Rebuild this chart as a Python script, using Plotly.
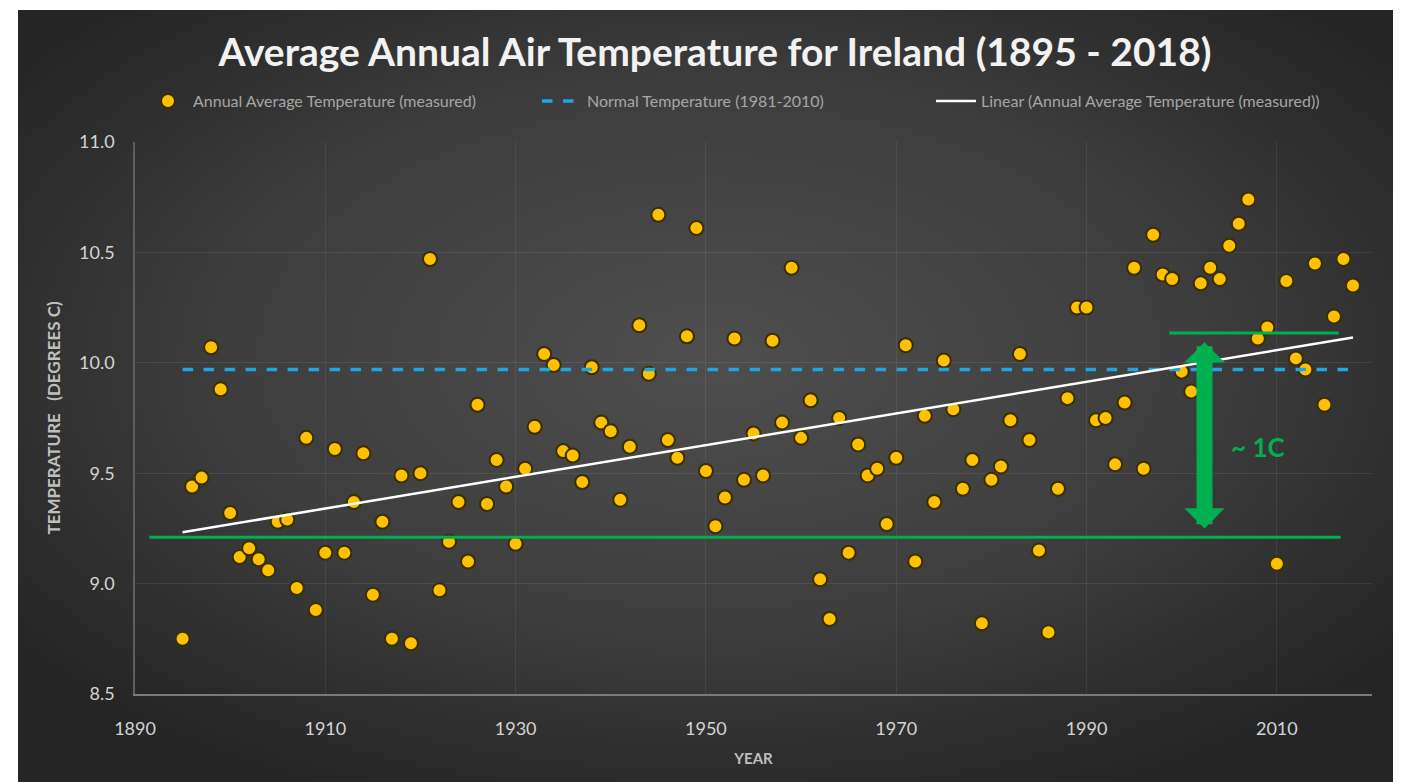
import base64
import numpy as np
import plotly.graph_objects as go

# ---------------- data ----------------
years = list(range(1895, 2019))
temps = [
    8.75, 9.44, 9.48, 10.07, 9.88, 9.32, 9.12, 9.16, 9.11, 9.06,   # 1895-1904
    9.28, 9.29, 8.98, 9.66, 8.88, 9.14, 9.61, 9.14, 9.37, 9.59,    # 1905-1914
    8.95, 9.28, 8.75, 9.49, 8.73, 9.50, 10.47, 8.97, 9.19, 9.37,   # 1915-1924
    9.10, 9.81, 9.36, 9.56, 9.44, 9.18, 9.52, 9.71, 10.04, 9.99,   # 1925-1934
    9.60, 9.58, 9.46, 9.98, 9.73, 9.69, 9.38, 9.62, 10.17, 9.95,   # 1935-1944
    10.67, 9.65, 9.57, 10.12, 10.61, 9.51, 9.26, 9.39, 10.11, 9.47,  # 1945-1954
    9.68, 9.49, 10.10, 9.73, 10.43, 9.66, 9.83, 9.02, 8.84, 9.75,  # 1955-1964
    9.14, 9.63, 9.49, 9.52, 9.27, 9.57, 10.08, 9.10, 9.76, 9.37,   # 1965-1974
    10.01, 9.79, 9.43, 9.56, 8.82, 9.47, 9.53, 9.74, 10.04, 9.65,  # 1975-1984
    9.15, 8.78, 9.43, 9.84, 10.25, 10.25, 9.74, 9.75, 9.54, 9.82,  # 1985-1994
    10.43, 9.52, 10.58, 10.40, 10.38, 9.96, 9.87, 10.36, 10.43, 10.38,  # 1995-2004
    10.53, 10.63, 10.74, 10.11, 10.16, 9.09, 10.37, 10.02, 9.97, 10.45,  # 2005-2014
    9.81, 10.21, 10.47, 10.35,                                       # 2015-2018
]
normal_temp = 9.97          # 1981-2010 normal
x_ticks = [1890, 1910, 1930, 1950, 1970, 1990, 2010]
y_ticks = [8.5, 9.0, 9.5, 10.0, 10.5, 11.0]

# annotation overlay (green guide lines and ~1C arrow)
base_level = 9.21
base_span = [1891.5, 2016.7]
recent_level = 10.135
recent_span = [1998.7, 2016.5]
arrow_year = 2002.4
arrow_bottom = 9.25
arrow_top = 10.10
delta_label = "~ 1C"
delta_label_pos = (2008.0, 9.62)

# linear trend (least squares) of the measured series
coef = np.polyfit(years, temps, 1)
trend_x = [years[0], years[-1]]
trend_y = list(np.polyval(coef, trend_x))

# page has an 8px body margin -> figure is 8px smaller and everything shifted
W, H = 1393, 774
ML, MR, MT, MB = 127, 29, 134, 88
PW, PH = W - ML - MR, H - MT - MB

GREEN = "#00B050"
FONT = "Lato"

fig = go.Figure()

fig.add_trace(go.Scatter(
    x=years, y=temps, mode="markers",
    name="Annual Average Temperature (measured)",
    marker=dict(color="#FFC000", size=14, line=dict(color="#3a2e00", width=2)),
))
fig.add_trace(go.Scatter(
    x=[years[0], years[-1]], y=[normal_temp, normal_temp], mode="lines",
    name="Normal Temperature (1981-2010)",
    line=dict(color="#1FA6E0", width=3.5, dash="dash"),
))
fig.add_trace(go.Scatter(
    x=trend_x, y=trend_y, mode="lines",
    name="Linear (Annual Average Temperature (measured))",
    line=dict(color="#FFFFFF", width=2.5),
))

# background gradient as an SVG image
svg = f'''<svg xmlns="http://www.w3.org/2000/svg" width="{W}" height="{H}" viewBox="0 0 100 100" preserveAspectRatio="none">
<defs><radialGradient id="g" cx="0.5" cy="0.45" r="0.62">
<stop offset="0" stop-color="#4e4e4e"/><stop offset="0.55" stop-color="#3e3e3e"/><stop offset="1" stop-color="#252525"/>
</radialGradient></defs><rect x="0" y="0" width="100" height="100" fill="url(#g)"/></svg>'''
src = "data:image/svg+xml;base64," + base64.b64encode(svg.encode()).decode()
left_px, top_px = 10, 2
fig.add_layout_image(dict(
    source=src, xref="paper", yref="paper",
    x=(left_px - ML) / PW, y=(H - MB - top_px) / PH,
    sizex=(W - left_px) / PW, sizey=(H - top_px) / PH,
    sizing="stretch", xanchor="left", yanchor="top", layer="below",
))

# green guide lines
fig.add_shape(type="line", x0=base_span[0], x1=base_span[1], y0=base_level, y1=base_level,
              xref="x", yref="y", line=dict(color=GREEN, width=3))
fig.add_shape(type="line", x0=recent_span[0], x1=recent_span[1], y0=recent_level, y1=recent_level,
              xref="x", yref="y", line=dict(color=GREEN, width=3))
# double-headed arrow
fig.add_annotation(x=arrow_year, y=arrow_bottom, ax=arrow_year, ay=arrow_top,
                   xref="x", yref="y", axref="x", ayref="y", text="",
                   showarrow=True, arrowhead=1, startarrowhead=1, arrowside="end+start",
                   arrowwidth=16, arrowsize=0.42, startarrowsize=0.42, arrowcolor=GREEN)
fig.add_annotation(x=delta_label_pos[0], y=delta_label_pos[1], text="<b>" + delta_label + "</b>",
                   showarrow=False, xref="x", yref="y",
                   font=dict(family=FONT, size=26, color=GREEN))

fig.update_layout(
    width=W, height=H,
    margin=dict(l=ML, r=MR, t=MT, b=MB),
    paper_bgcolor="#FFFFFF",
    plot_bgcolor="rgba(0,0,0,0)",
    font=dict(family=FONT, color="#D9D9D9"),
    title=dict(text="<b>Average Annual Air Temperature for Ireland (1895 - 2018)</b>",
               x=707 / W, y=1 - 44 / H, xref="container", yref="container",
               xanchor="center", yanchor="middle",
               font=dict(family=FONT, size=39, color="#F2F2F2")),
    legend=dict(orientation="h", x=(135 - ML) / PW, y=(H - MB - 93) / PH,
                xanchor="left", yanchor="middle", bgcolor="rgba(0,0,0,0)",
                font=dict(family=FONT, size=16, color="#A6A6A6"),
                entrywidth=339, entrywidthmode="pixels", itemwidth=40),
    showlegend=True,
)
fig.update_xaxes(range=[1890, 2020], tickvals=x_ticks, ticktext=[str(v) for v in x_ticks],
                 showgrid=True, gridcolor="rgba(255,255,255,0.07)", gridwidth=1,
                 showline=True, linecolor="#7a7a7a", linewidth=1.5, zeroline=False,
                 ticks="", ticklabelstandoff=18,
                 tickfont=dict(family=FONT, size=18, color="#D4D4D4"),
                 title=dict(text="<b>YEAR</b>", standoff=15,
                            font=dict(family=FONT, size=15, color="#BFBFBF")))
fig.update_yaxes(range=[8.5, 11.0], tickvals=y_ticks, ticktext=[f"{v:.1f}" for v in y_ticks],
                 showgrid=True, gridcolor="rgba(255,255,255,0.08)", gridwidth=1,
                 showline=True, linecolor="#5e5e5e", linewidth=1.5, zeroline=False,
                 ticks="", ticklabelstandoff=15,
                 tickfont=dict(family=FONT, size=18, color="#D4D4D4"),
                 title=dict(text="<b>TEMPERATURE   (DEGREES C)</b>", standoff=14,
                            font=dict(family=FONT, size=17, color="#BFBFBF")))

fig.write_html("out.html")
